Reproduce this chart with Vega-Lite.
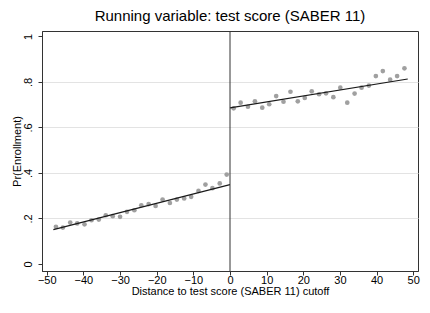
{
  "$schema": "https://vega.github.io/schema/vega-lite/v6.json",
  "width": 376,
  "height": 240,
  "autosize": {"type": "none"},
  "padding": {"left": 42, "top": 31, "right": 12, "bottom": 42},
  "background": "white",
  "title": {
    "text": "Running variable: test score (SABER 11)",
    "font": "Liberation Sans",
    "fontSize": 15,
    "fontWeight": "normal",
    "color": "#000000",
    "anchor": "middle",
    "baseline": "alphabetic",
    "offset": 8,
    "dy": 13
  },
  "config": {
    "view": {"stroke": "#333333", "strokeWidth": 1},
    "axis": {
      "labelFont": "Liberation Sans",
      "titleFont": "Liberation Sans",
      "labelColor": "#000000",
      "titleColor": "#000000",
      "labelFontSize": 11,
      "titleFontSize": 11,
      "titleFontWeight": "normal",
      "domainColor": "#333333",
      "tickColor": "#333333",
      "tickSize": 4,
      "labelOverlap": false
    }
  },
  "datasets": {
    "points": [
      {"distance": -47.5, "enrollment": 0.163},
      {"distance": -45.6, "enrollment": 0.160},
      {"distance": -43.6, "enrollment": 0.182},
      {"distance": -41.7, "enrollment": 0.178},
      {"distance": -39.7, "enrollment": 0.174},
      {"distance": -37.8, "enrollment": 0.192},
      {"distance": -35.8, "enrollment": 0.195},
      {"distance": -33.9, "enrollment": 0.214},
      {"distance": -32.0, "enrollment": 0.210},
      {"distance": -30.0, "enrollment": 0.207},
      {"distance": -28.1, "enrollment": 0.229},
      {"distance": -26.1, "enrollment": 0.236},
      {"distance": -24.2, "enrollment": 0.258},
      {"distance": -22.2, "enrollment": 0.263},
      {"distance": -20.3, "enrollment": 0.255},
      {"distance": -18.4, "enrollment": 0.283},
      {"distance": -16.4, "enrollment": 0.268},
      {"distance": -14.5, "enrollment": 0.283},
      {"distance": -12.5, "enrollment": 0.288},
      {"distance": -10.6, "enrollment": 0.295},
      {"distance": -8.6, "enrollment": 0.321},
      {"distance": -6.7, "enrollment": 0.349},
      {"distance": -4.8, "enrollment": 0.333},
      {"distance": -2.8, "enrollment": 0.354},
      {"distance": -0.9, "enrollment": 0.393},
      {"distance": 1.0, "enrollment": 0.684},
      {"distance": 2.9, "enrollment": 0.709},
      {"distance": 4.9, "enrollment": 0.691},
      {"distance": 6.8, "enrollment": 0.715},
      {"distance": 8.8, "enrollment": 0.687},
      {"distance": 10.7, "enrollment": 0.702},
      {"distance": 12.6, "enrollment": 0.738},
      {"distance": 14.6, "enrollment": 0.713},
      {"distance": 16.5, "enrollment": 0.757},
      {"distance": 18.5, "enrollment": 0.715},
      {"distance": 20.4, "enrollment": 0.730},
      {"distance": 22.3, "enrollment": 0.759},
      {"distance": 24.3, "enrollment": 0.746},
      {"distance": 26.2, "enrollment": 0.750},
      {"distance": 28.2, "enrollment": 0.733},
      {"distance": 30.1, "enrollment": 0.775},
      {"distance": 32.0, "enrollment": 0.709},
      {"distance": 34.0, "enrollment": 0.749},
      {"distance": 35.9, "enrollment": 0.775},
      {"distance": 37.9, "enrollment": 0.784},
      {"distance": 39.8, "enrollment": 0.826},
      {"distance": 41.7, "enrollment": 0.848},
      {"distance": 43.7, "enrollment": 0.810},
      {"distance": 45.6, "enrollment": 0.826},
      {"distance": 47.6, "enrollment": 0.860}
    ],
    "fits": [
      {"side": "below", "distance": -48.2, "fitted": 0.151},
      {"side": "below", "distance": 0, "fitted": 0.349},
      {"side": "above", "distance": 0, "fitted": 0.686},
      {"side": "above", "distance": 48.5, "fitted": 0.813}
    ]
  },
  "layer": [
    {
      "data": {"name": "points"},
      "mark": {"type": "circle", "size": 22, "color": "#a0a0a0", "opacity": 1},
      "encoding": {
        "x": {
          "field": "distance",
          "type": "quantitative",
          "scale": {"domain": [-51.3, 51.3], "nice": false, "zero": false},
          "axis": {
            "tickCount": 10,
            "grid": false,
            "labelOverlap": false,
            "labelSeparation": 0,
            "labelFlush": false,
            "labelExpr": "format(datum.value, 'd')",
            "title": "Distance to test score (SABER 11) cutoff",
            "labelPadding": -1,
            "titlePadding": 0
          }
        },
        "y": {
          "field": "enrollment",
          "type": "quantitative",
          "scale": {"domain": [-0.031, 1.024], "nice": false, "zero": false},
          "axis": {
            "values": [0, 0.2, 0.4, 0.6, 0.8, 1],
            "grid": true,
            "labelOverlap": false,
            "labelFlush": false,
            "gridColor": {"condition": {"test": "datum.value == 0 || datum.value == 1", "value": "transparent"}, "value": "#e3e3e3"},
            "labelExpr": "datum.value == 0 ? '0' : datum.value == 1 ? '1' : replace(format(datum.value, '.1f'), '0.', '.')",
            "labelAngle": -90,
            "labelAlign": "center",
            "labelBaseline": "bottom",
            "labelPadding": 5,
            "title": "Pr(Enrollment)",
            "titlePadding": 0
          }
        }
      }
    },
    {
      "data": {"name": "fits"},
      "mark": {"type": "line", "color": "#1a1a1a", "strokeWidth": 1.2},
      "encoding": {
        "x": {"field": "distance", "type": "quantitative"},
        "y": {"field": "fitted", "type": "quantitative"},
        "detail": {"field": "side"}
      }
    },
    {
      "data": {"values": [{}]},
      "mark": {"type": "rule", "color": "#333333", "strokeWidth": 1},
      "encoding": {"x": {"datum": 0}}
    }
  ]
}
